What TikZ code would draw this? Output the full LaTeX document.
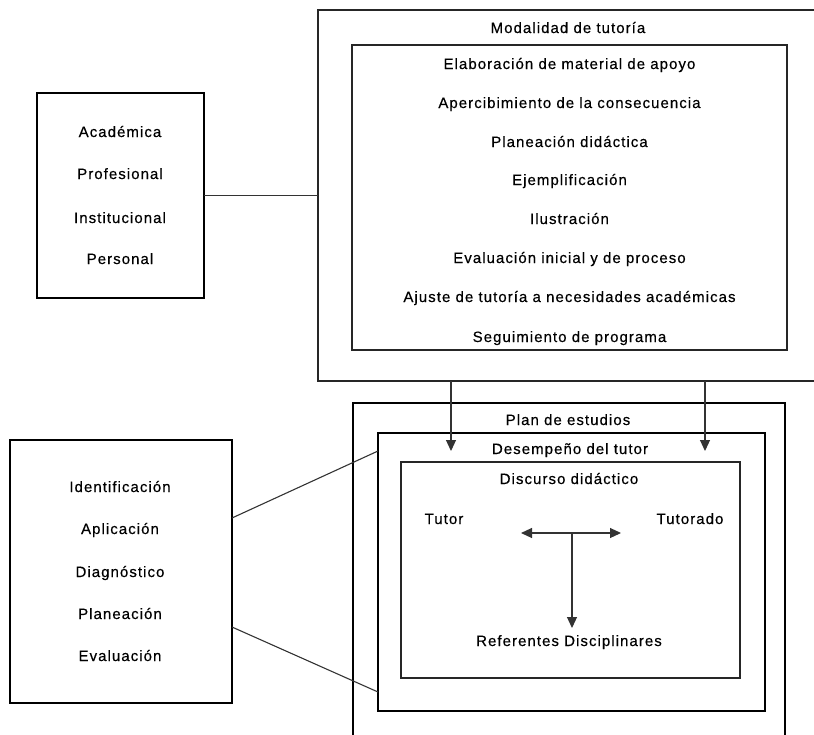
\documentclass[tikz,border=0pt]{standalone}
\usepackage{fontspec}
\setmainfont{Liberation Sans}[LetterSpace=7,FakeBold=0.4]
\usetikzlibrary{arrows.meta,calc}

\begin{document}
\begin{tikzpicture}[x=1pt,y=-1pt,
  lbl/.style={font=\fontsize{15}{18}\selectfont, text=black, inner sep=0pt, anchor=base},
  frame/.style={draw=black!85, line width=1.1pt, inner sep=0pt, outer sep=0pt},
  heavyframe/.style={frame, draw=black, line width=1.5pt},
  boldframe/.style={frame, draw=black, line width=2.1pt},
  conn/.style={draw=black!80, line width=1.1pt},
  arr/.style={conn, -{Triangle[length=11pt,width=10pt]}},
  dblarr/.style={conn, {Triangle[length=11pt,width=10pt]}-{Triangle[length=11pt,width=10pt]}}
]
\useasboundingbox (0,0) rectangle (814,734);
\clip (0,0) rectangle (814,734);

% --- upper part: tutoring types and modality ---
\node[heavyframe, minimum width=167pt, minimum height=205pt] (tipos) at (120.5,195.5) {};
\node[frame, minimum width=532pt, minimum height=371pt] (modal) at (584,195.5) {};
\node[frame, minimum width=435pt, minimum height=305pt] (acciones) at (569.5,197.5) {};

\node[lbl] (t1) at (120,137) {Académica};
\node[lbl] (t2) at (120,179) {Profesional};
\node[lbl] (t3) at (120,223) {Institucional};
\node[lbl] (t4) at (120,264) {Personal};

\node[lbl] (modtit) at (568,33) {Modalidad de tutoría};
\node[lbl] (a1) at (569.5,69) {Elaboración de material de apoyo};
\node[lbl] (a2) at (569.5,108) {Apercibimiento de la consecuencia};
\node[lbl] (a3) at (569.5,147) {Planeación didáctica};
\node[lbl] (a4) at (569.5,185) {Ejemplificación};
\node[lbl] (a5) at (569.5,224) {Ilustración};
\node[lbl] (a6) at (569.5,263) {Evaluación inicial y de proceso};
\node[lbl] (a7) at (569.5,302) {Ajuste de tutoría a necesidades académicas};
\node[lbl] (a8) at (569.5,342) {Seguimiento de programa};

\draw[conn] (tipos.east) -- (modal.west);

% --- lower part: phases and nested contexts ---
\node[heavyframe, minimum width=222pt, minimum height=263pt] (fases) at (121,571.5) {};
\node[heavyframe, minimum width=432pt, minimum height=357pt] (plan) at (569,581.5) {};
\node[boldframe, minimum width=387pt, minimum height=278pt] (desemp) at (571.5,572) {};
\node[frame, minimum width=339pt, minimum height=216pt] (discurso) at (570.5,570) {};

\node[lbl] (f1) at (120,492) {Identificación};
\node[lbl] (f2) at (120,534) {Aplicación};
\node[lbl] (f3) at (120,577) {Diagnóstico};
\node[lbl] (f4) at (120,619) {Planeación};
\node[lbl] (f5) at (120,661) {Evaluación};

\node[lbl] (plantit) at (568,425) {Plan de estudios};
\node[lbl] (destit) at (570,454) {Desempeño del tutor};
\node[lbl] (distit) at (569,484) {Discurso didáctico};
\node[lbl] (tutor) at (444,524) {Tutor};
\node[lbl] (tutorado) at (690,524) {Tutorado};
\node[lbl] (refs) at (569,646) {Referentes Disciplinares};

\draw[conn] ($(fases.east)+(0,-53.5)$) -- ($(desemp.west)+(0,-121)$);
\draw[conn] ($(fases.east)+(0,55.5)$) -- ($(desemp.west)+(0,120)$);

% arrows from the modality box into the tutor's performance
\coordinate (d1) at (451,451);
\coordinate (d2) at (705,451);
\draw[arr] (modal.south -| d1) -- (d1);
\draw[arr] (modal.south -| d2) -- (d2);

% tutor <-> tutee exchange and disciplinary references
\coordinate (hl) at (521,533);
\coordinate (hr) at (621,533);
\coordinate (hm) at (572,533);
\coordinate (rv) at (572,628);
\draw[dblarr] (hl) -- (hr);
\draw[arr] (hm) -- (rv);
\end{tikzpicture}
\end{document}
